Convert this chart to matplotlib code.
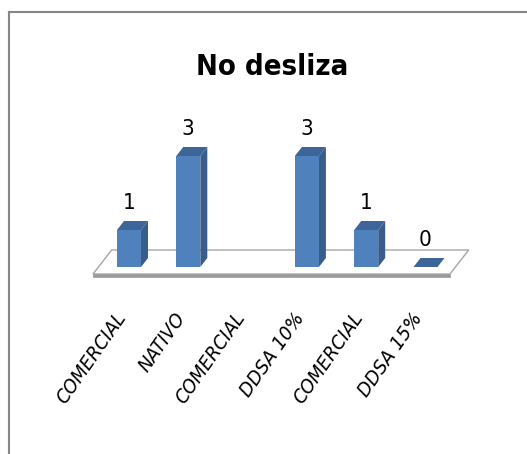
import matplotlib
matplotlib.use("Agg")
import matplotlib.pyplot as plt
from matplotlib.patches import Polygon, Rectangle
from matplotlib.lines import Line2D

categorias = ["COMERCIAL", "NATIVO", "COMERCIAL", "DDSA 10%", "COMERCIAL", "DDSA 15%"]
valores = [1, 3, None, 3, 1, 0]
titulo = "No desliza"

fuente = ["DejaVu Sans"]

W, H = 527, 454
fig = plt.figure(figsize=(W / 100, H / 100), dpi=100)
ax = fig.add_axes([0, 0, 1, 1])
ax.set_axis_off()

# escala: pixeles por categoria y por unidad
px_x, px_y = 59.3, 37.0
x0, y0 = 129, 267
ax.set_xlim(-x0 / px_x, (W - x0) / px_x)
ax.set_ylim(-(H - y0) / px_y, y0 / px_y)

ancho = 0.405
dx, dy = 7 / px_x, 9 / px_y   # profundidad de las barras

c_frente = "#4f81bd"
c_lado = "#385d8a"
c_tapa = "#3d6597"

# piso
t0, t1 = -0.78, 1.89
xa, xb = -0.515, 5.505
piso = [(xa + t0 * dx, t0 * dy), (xb + t0 * dx, t0 * dy),
        (xb + t1 * dx, t1 * dy), (xa + t1 * dx, t1 * dy)]
ax.add_patch(Polygon(piso, closed=True, facecolor="white",
                     edgecolor="#a6a6a6", lw=1.0, zorder=1))
grosor = 3 / px_y
ax.add_patch(Polygon([piso[0], piso[1], (piso[1][0], piso[1][1] - grosor),
                      (piso[0][0], piso[0][1] - grosor)],
                     closed=True, facecolor="#9a9a9a", edgecolor="#9a9a9a",
                     lw=0.5, zorder=1))

for i, v in enumerate(valores):
    if v is None:
        continue
    xl, xr = i - ancho / 2, i + ancho / 2
    if v > 0:
        ax.add_patch(Rectangle((xl, 0), ancho, v, facecolor=c_frente,
                               edgecolor="none", zorder=3))
        ax.add_patch(Polygon([(xr, 0), (xr + dx, dy), (xr + dx, v + dy), (xr, v)],
                             closed=True, facecolor=c_lado, edgecolor="none", zorder=3))
    ax.add_patch(Polygon([(xl, v), (xr, v), (xr + dx, v + dy), (xl + dx, v + dy)],
                         closed=True, facecolor=c_tapa, edgecolor="none", zorder=3))
    ax.text(i, v + 0.72, str(v), ha="center", va="center", fontsize=16,
            family=fuente, fontstretch="condensed", zorder=4)

# etiquetas de categoria
for i, cat in enumerate(categorias):
    ax.text(i - 0.11, -1.28, cat, rotation=55, rotation_mode="anchor",
            ha="right", va="center", fontsize=14.5, style="italic",
            family=fuente, fontstretch="condensed")

fig.text(272 / W, 1 - 67 / H, titulo, ha="center", va="center",
         fontsize=21, fontweight="bold", family=fuente, fontstretch="condensed")

# marco del grafico
gris = "#868686"
fig.add_artist(Line2D([9 / W, 9 / W], [0, 1 - 12 / H], color=gris, lw=1.5))
fig.add_artist(Line2D([9 / W, 1], [1 - 12 / H, 1 - 12 / H], color=gris, lw=1.5))

fig.savefig("out.png", dpi=100)
